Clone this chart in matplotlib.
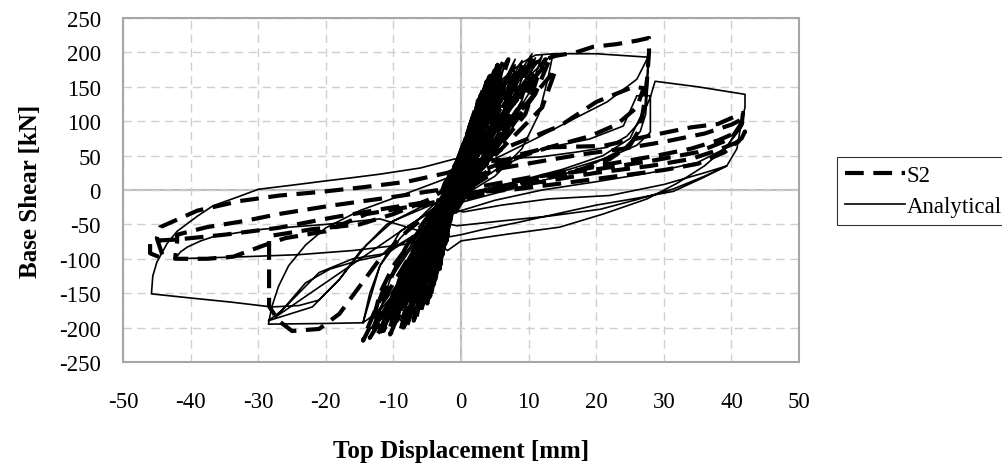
import matplotlib.pyplot as plt
import numpy as np

# ── Data (x: top displacement [mm], y: base shear [kN]) ──
x_ticks = list(range(-50, 51, 10))
y_ticks = list(range(-250, 251, 50))

# analytical response: dense small cycles around the origin
ana_core = [
    (0.0, 0), (1.0, 60), (0.2, 15), (-1.2, -20), (-1.8, -60), (-1.0, -15), (0.0, 20),
    (1.8, 95), (0.6, 30), (-1.5, -25), (-2.6, -95), (-1.6, -30), (-0.2, 25),
    (2.6, 125), (1.0, 40), (-1.8, -30), (-3.4, -120), (-2.0, -35), (-0.4, 25),
    (3.2, 145), (1.4, 50), (-2.0, -30), (-4.0, -140), (-2.5, -40), (-0.6, 30),
    (2.2, 120), (0.8, 35), (-2.4, -40), (-4.6, -155), (-2.8, -45), (-0.5, 30),
    (3.8, 160), (1.6, 55), (-1.6, -20), (-3.0, -115), (-1.8, -30), (-0.2, 35),
    (4.3, 168), (2.0, 60), (-2.2, -35), (-5.2, -165), (-3.0, -50), (-0.8, 30),
    (2.8, 140), (1.0, 45), (-2.6, -40), (-5.8, -172), (-3.4, -55), (-1.0, 25),
    (4.8, 175), (2.2, 65), (-2.0, -30), (-4.2, -150), (-2.6, -45), (-0.4, 35),
    (5.4, 180), (2.6, 70), (-2.8, -45), (-6.4, -178), (-3.8, -60), (-1.2, 25),
    (3.6, 155), (1.3, 50), (-3.0, -50), (-7.0, -182), (-4.2, -65), (-1.4, 20),
    (6.0, 184), (3.0, 75), (-2.4, -35), (-5.0, -162), (-3.0, -50), (-0.6, 30),
    (1.5, 90), (0.2, 20), (-1.4, -20), (-2.2, -80), (-1.2, -20), (0.3, 25),
    (6.6, 186), (3.3, 80), (-3.2, -55), (-7.6, -186), (-4.6, -70), (-1.6, 20),
    (4.0, 165), (1.6, 55), (-2.6, -40), (-3.6, -130), (-2.0, -35), (-0.2, 30),
    (8.0, 190), (4.0, 85), (-3.0, -50), (-9.0, -190), (-5.0, -80), (-1.5, 20),
    (10.5, 198), (6.5, 100), (2.0, 20), (-3.0, -60), (-10.0, -192), (-6.0, -90), (-1.0, 20),
]

# analytical response: medium cycles fanning out of the core
ana_mid = [
    (5.0, 150), (3.5, 70), (0.5, 10), (-3.0, -50), (-8.0, -160), (-6.5, -90), (-3.0, -20), (0.5, 40),
    (7.5, 175), (6.0, 100), (2.0, 30), (-2.5, -40), (-9.5, -175), (-8.0, -110), (-4.0, -35), (0.0, 30),
    (9.0, 188), (7.5, 120), (3.0, 40), (-3.5, -50), (-11.0, -185), (-9.0, -120), (-4.5, -40), (-0.5, 25),
    (6.0, 165), (4.5, 90), (1.0, 20), (-2.0, -35), (-7.0, -150), (-5.5, -80), (-2.0, -10), (1.5, 60),
    (11.0, 192), (9.0, 130), (4.0, 50), (-4.0, -60), (-12.5, -190), (-10.5, -130), (-5.0, -50), (-1.0, 20),
    (4.5, 140), (3.0, 60), (-0.5, 0), (-4.5, -90), (-6.0, -140), (-4.0, -60), (-1.0, 10),
    (8.0, 182), (6.5, 110), (2.5, 35), (-3.0, -45), (-10.0, -180), (-8.5, -115), (-4.0, -35), (0.0, 30),
    (12.0, 195), (10.0, 140), (5.0, 60), (-4.5, -70), (-13.5, -192), (-11.5, -140), (-6.0, -60), (-1.5, 15),
    (3.5, 130), (2.0, 50), (-1.0, -5), (-5.5, -120), (-8.5, -170), (-6.0, -100), (-2.5, -20), (0.0, 20),
    (2.0, 110), (0.5, 35), (-2.0, -15), (-4.0, -105), (-2.8, -60), (-1.2, -5), (1.2, 70),
]

# analytical response: large excursions
ana_loops = [
    (3.0, 110), (6.0, 160), (9.0, 185), (11.0, 196), (13.6, 198),
    (12.8, 160), (11.5, 110), (9.0, 60), (5.0, 20), (0.0, -10), (-3.0, -40),
    (-6.0, -90), (-9.0, -140), (-12.0, -175), (-14.5, -193),
    (-13.5, -150), (-12.0, -110), (-9.0, -70), (-5.0, -30), (0.0, 15), (4.0, 70),
    (7.0, 120), (10.0, 165), (13.6, 198), (20.0, 198), (27.7, 193),
    (27.6, 150), (27.3, 110), (26.5, 85), (24.0, 60), (20.0, 40), (15.0, 22),
    (10.0, 8), (5.0, -5), (0.0, -18), (-5.0, -35), (-9.0, -60), (-12.0, -110),
    (-13.5, -160), (-14.5, -193), (-20.0, -194), (-28.5, -195),
    (-28.0, -170), (-27.0, -140), (-25.5, -110), (-23.0, -80), (-20.0, -55),
    (-15.0, -30), (-10.0, -12), (-4.0, 10), (0.0, 25), (6.0, 50), (11.7, 78),
    (16.6, 103), (21.6, 128), (26.0, 161), (27.5, 190), (27.7, 193),
    (27.2, 120), (25.0, 75), (21.0, 50), (15.0, 30), (8.0, 12), (2.0, -2),
    (-4.0, -20), (-10.0, -45), (-14.0, -80), (-18.0, -130), (-22.0, -170),
    (-28.5, -190), (-26.5, -175), (-23.0, -135), (-19.4, -115), (-15.0, -102),
    (-12.0, -96), (-6.0, -60), (0.0, -5), (6.0, 35), (12.0, 60), (19.0, 74),
    (24.0, 93), (26.0, 137), (28.0, 137), (28.0, 84), (26.0, 65), (22.0, 48),
    (16.0, 30), (10.0, 15), (4.0, 0), (0.0, -10), (-6.0, -25), (-11.0, -50),
    (-15.0, -90), (-18.0, -130), (-21.0, -160), (-24.0, -168), (-28.0, -170),
    (-34.0, -163), (-40.0, -157), (-45.8, -151), (-45.6, -125), (-45.0, -105),
    (-43.5, -78), (-42.0, -60), (-39.0, -38), (-36.7, -23), (-33.0, -10),
    (-30.0, 1), (-25.0, 7), (-21.0, 12), (-16.0, 18), (-12.0, 23), (-6.0, 32),
    (-1.0, 45), (5.0, 45), (11.7, 48), (17.0, 55), (21.6, 62), (24.5, 78),
    (26.5, 100), (28.0, 135), (28.7, 158), (35.0, 150), (42.0, 139),
    (42.0, 120), (41.5, 100), (40.8, 60), (39.3, 35), (35.4, 16), (31.4, -2),
    (26.0, -12), (20.0, -22), (14.0, -35), (8.0, -48), (3.0, -58), (0.0, -65),
    (-4.0, -72), (-9.0, -80), (-16.0, -88), (-24.0, -94), (-32.0, -97),
    (-42.3, -100), (-41.5, -90), (-40.5, -83), (-38.5, -74), (-36.7, -68),
    (-33.0, -62), (-29.3, -57), (-20.0, -50), (-12.0, -42), (-6.0, -60),
    (-2.0, -88), (0.0, -74), (7.0, -64), (14.6, -54), (21.0, -35),
    (27.5, -13), (32.0, 10), (36.0, 35), (39.5, 65), (41.3, 95), (41.9, 113),
    (41.0, 85), (39.0, 60), (35.0, 40), (28.0, 25), (20.0, 12), (12.0, 0),
    (5.0, -15), (0.0, -30), (-4.0, -45), (-0.6, -52), (6.0, -45), (13.0, -38),
    (20.6, -28), (26.0, -14), (31.4, 1.5), (36.0, 20), (39.3, 35),
    (36.0, 25), (30.0, 8), (22.0, -8), (13.0, -13), (6.0, -22), (0.3, -32),
    (-3.0, -20), (-27.5, -185), (-25.0, -160), (-21.0, -120), (-16.0, -100),
    (-11.0, -92), (-5.0, -55), (0.0, 0),
]

# S2 test: dense small cycles around the origin
s2_core = [
    (0.0, 0), (1.2, 70), (0.2, 20), (-1.0, -15), (-2.2, -75), (-1.2, -20), (0.2, 25),
    (2.0, 105), (0.7, 35), (-1.6, -30), (-3.2, -115), (-2.0, -40), (-0.3, 25),
    (3.0, 140), (1.2, 45), (-2.0, -35), (-4.2, -145), (-2.6, -50), (-0.6, 25),
    (3.8, 158), (1.7, 55), (-2.4, -40), (-5.0, -165), (-3.2, -60), (-0.8, 30),
    (2.5, 130), (0.9, 40), (-2.8, -45), (-6.0, -180), (-3.8, -65), (-1.0, 25),
    (4.6, 172), (2.2, 65), (-2.2, -35), (-4.6, -155), (-2.8, -50), (-0.4, 35),
    (5.4, 182), (2.6, 70), (-3.0, -50), (-7.0, -190), (-4.4, -75), (-1.4, 20),
    (3.4, 150), (1.4, 50), (-3.4, -55), (-8.0, -198), (-5.0, -80), (-1.6, 20),
    (6.2, 186), (3.0, 80), (-2.6, -45), (-5.6, -172), (-3.4, -60), (-0.6, 30),
    (4.2, 165), (1.8, 60), (-3.8, -60), (-9.0, -205), (-5.6, -90), (-2.0, 15),
    (7.0, 190), (3.6, 85), (-3.0, -50), (-6.6, -185), (-4.0, -70), (-1.0, 25),
    (9.5, 185), (5.0, 95), (-4.0, -65), (-10.5, -210), (-6.4, -100), (-2.4, 10),
    (11.0, 195), (6.0, 100), (0.0, 5), (-8.5, -200), (-4.5, -70), (0.5, 30),
    (12.5, 190), (7.0, 90), (1.0, 10), (-12.5, -212), (-7.0, -110), (-1.0, 20),
]

# S2 test: medium cycles fanning out of the core
s2_mid = [
    (6.5, 160), (5.0, 90), (1.0, 15), (-3.5, -60), (-9.5, -190), (-8.0, -120), (-3.5, -30), (0.5, 40),
    (10.0, 180), (8.5, 120), (3.5, 45), (-4.0, -70), (-11.5, -205), (-9.5, -140), (-4.5, -45), (0.0, 30),
    (8.0, 170), (6.5, 105), (2.0, 25), (-3.0, -50), (-7.5, -175), (-6.0, -105), (-2.5, -20), (1.0, 50),
    (13.0, 188), (11.0, 140), (5.5, 65), (-5.0, -80), (-13.5, -215), (-11.5, -160), (-6.0, -70), (-1.0, 20),
    (5.5, 150), (4.0, 80), (0.0, 5), (-5.0, -100), (-10.5, -200), (-8.5, -130), (-4.0, -40), (0.5, 35),
    (9.0, 178), (7.5, 115), (3.0, 35), (-4.5, -80), (-12.0, -208), (-10.0, -150), (-5.0, -55), (-0.5, 25),
    (11.5, 170), (9.5, 110), (4.5, 50), (-6.0, -110), (-13.0, -200), (-11.0, -170), (-8.0, -120), (-3.0, -20),
    (14.0, 175), (12.0, 120), (6.0, 60), (2.0, 20),
]

# S2 test: large excursions
s2_loops = [
    (3.0, 100), (6.0, 150), (9.0, 175), (11.0, 185), (14.0, 195), (17.0, 200),
    (19.5, 208), (23.0, 212), (26.0, 217), (27.8, 221), (27.8, 200),
    (27.5, 160), (27.0, 120), (26.5, 90), (25.0, 65), (22.0, 45), (18.0, 30),
    (12.0, 15), (6.0, 2), (0.0, -15), (-5.0, -40), (-8.0, -80), (-10.5, -130),
    (-12.5, -170), (-14.0, -205), (-14.5, -219), (-13.0, -190), (-12.0, -150),
    (-10.0, -110), (-7.0, -70), (-4.0, -30), (0.0, 10), (5.0, 55), (10.0, 75),
    (14.6, 93), (20.0, 128), (23.0, 140), (25.5, 150), (27.0, 148),
    (26.0, 120), (23.0, 95), (19.0, 78), (13.0, 62), (6.0, 40), (0.0, 15),
    (-5.0, -15), (-10.0, -35), (-15.0, -50), (-22.0, -57), (-28.4, -67),
    (-28.4, -120), (-28.4, -169), (-27.0, -190), (-25.0, -205), (-21.0, -202),
    (-18.0, -180), (-15.0, -140), (-12.0, -100), (-8.0, -60), (-3.0, -20),
    (0.0, 5), (8.0, 50), (13.0, 62), (21.0, 64), (28.0, 79), (34.0, 91),
    (38.0, 96), (41.7, 112), (41.5, 95), (40.8, 84), (38.0, 72), (34.0, 60),
    (29.0, 50), (22.0, 38), (14.0, 22), (6.0, 5), (0.0, -10), (-10.0, -25),
    (-19.0, -40), (-27.0, -55), (-35.0, -65), (-42.0, -72), (-46.0, -74),
    (-46.0, -92), (-44.0, -100), (-45.0, -70), (-44.5, -54), (-39.0, -30),
    (-32.7, -16), (-26.8, -8), (-21.0, -3), (-14.5, 4), (-8.0, 12), (-2.0, 25),
    (2.0, 40), (8.0, 45), (0.0, -5), (8.0, 1), (16.0, 11), (23.0, 20),
    (30.0, 29), (35.0, 38), (39.0, 55), (41.5, 75), (42.0, 85), (41.0, 70),
    (38.0, 58), (34.0, 45), (28.0, 35), (20.0, 25), (12.0, 12), (4.0, 0),
    (-5.0, -20), (-14.0, -35), (-20.0, -60), (-26.0, -70), (-29.3, -81),
    (-33.7, -97), (-37.6, -100), (-42.3, -100), (-42.0, -75), (-42.0, -65),
    (-37.6, -54), (-32.0, -45), (-27.0, -35), (-19.4, -23), (-10.0, -10),
    (0.0, 5), (5.0, 30), (12.0, 42), (18.0, 52), (24.0, 60), (30.0, 70),
    (36.0, 82), (40.0, 95), (42.0, 105), (40.0, 75), (35.0, 55), (28.0, 42),
    (20.0, 30), (10.0, 18), (0.0, 0),
]


def to_xy(points):
    arr = np.array(points, dtype=float)
    return arr[:, 0], arr[:, 1]


s2_x, s2_y = to_xy(s2_core + s2_mid + s2_loops)
ana_x, ana_y = to_xy(ana_core + ana_mid + ana_loops)

# ── Plot ─────────────────────────────────────────────────────────────────────
plt.rcParams.update({
    "font.family": ["Liberation Serif", "DejaVu Serif"],
    "font.size": 16.5,
    "axes.unicode_minus": False,
})

fig = plt.figure(figsize=(10.02, 4.64), dpi=100)
ax = fig.add_axes([0.1228, 0.2177, 0.6747, 0.7414])

ax.plot(s2_x, s2_y, color="black", linewidth=3.0, dashes=(4.5, 2.3),
        label="S2", zorder=3)
ax.plot(ana_x, ana_y, color="black", linewidth=1.2, label="Analytical",
        zorder=4)

ax.set_xlim(-50, 50)
ax.set_ylim(-250, 250)
ax.set_xticks(x_ticks)
ax.set_yticks(y_ticks)
ax.grid(color="#cfcfcf", linestyle=(0, (6, 4)), linewidth=1.0, zorder=0)
ax.axhline(0, color="#bdbdbd", linewidth=1.5, zorder=1)
ax.axvline(0, color="#bdbdbd", linewidth=1.5, zorder=1)
for sp in ax.spines.values():
    sp.set_color("#a6a6a6")
    sp.set_linewidth(1.5)
ax.tick_params(length=0, labelsize=16.5)
ax.tick_params(axis="x", pad=21)
ax.tick_params(axis="y", pad=16)

ax.set_xlabel("Top Displacement [mm]", fontsize=18, fontweight="bold",
              labelpad=19)
ax.set_ylabel("Base Shear [kN]", fontsize=18, fontweight="bold", labelpad=12)

leg = ax.legend(loc="upper left", bbox_to_anchor=(837 / 1002, 1 - 158 / 464),
                bbox_transform=fig.transFigure, frameon=True, fancybox=False,
                edgecolor="black", handlelength=2.6, labelspacing=0.45,
                borderpad=0.35, borderaxespad=0, handletextpad=0.1,
                fontsize=16.5)
leg.get_frame().set_linewidth(0.8)

fig.savefig("out.png", dpi=100)
